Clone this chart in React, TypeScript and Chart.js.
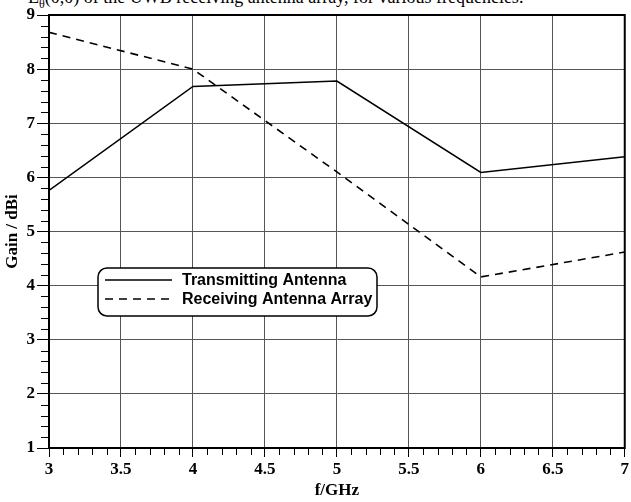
import React, { useEffect, useRef } from "react";
import { Chart, registerables } from "chart.js";

Chart.register(...registerables);

// Frequency points (GHz) and measured gains (dBi)
const frequencies = [3, 4, 5, 6, 7];
const transmittingGain = [5.76, 7.68, 7.78, 6.09, 6.38];
const receivingGain = [8.68, 8.0, 6.1, 4.16, 4.62];

const seriesNames = ["Transmitting Antenna", "Receiving Antenna Array"];
const xAxisTitle = "f/GHz";
const yAxisTitle = "Gain / dBi";

const serifFamily = "'Liberation Serif', 'Times New Roman', serif";
const tickFont = { family: serifFamily, size: 17, weight: "bold" as const };
const titleFont = { family: serifFamily, size: 17, weight: "bold" as const };

// Minor tick marks, plot frame and the boxed legend inside the plot
const decorations = {
  id: "decorations",
  afterDraw(chart: any) {
    const { ctx, chartArea, scales } = chart;
    const xs = scales.x;
    const ys = scales.y;
    ctx.save();
    ctx.strokeStyle = "#000";
    ctx.lineWidth = 1;
    // x minor ticks every 0.1
    for (let i = 30; i <= 70; i++) {
      if (i % 5 === 0) continue;
      const px = Math.round(xs.getPixelForValue(i / 10)) + 0.5;
      ctx.beginPath();
      ctx.moveTo(px, chartArea.bottom);
      ctx.lineTo(px, chartArea.bottom + 7);
      ctx.stroke();
    }
    // y minor ticks every 0.2
    for (let i = 5; i <= 45; i++) {
      if (i % 5 === 0) continue;
      const py = Math.round(ys.getPixelForValue(i / 5)) + 0.5;
      ctx.beginPath();
      ctx.moveTo(chartArea.left - 8, py);
      ctx.lineTo(chartArea.left, py);
      ctx.stroke();
    }
    // frame
    ctx.lineWidth = 2;
    ctx.strokeRect(chartArea.left, chartArea.top, chartArea.right - chartArea.left, chartArea.bottom - chartArea.top);

    // legend box
    const bx = 98, by = 268, bw = 279, bh = 48, r = 9;
    ctx.beginPath();
    ctx.roundRect(bx, by, bw, bh, r);
    ctx.fillStyle = "#fff";
    ctx.fill();
    ctx.lineWidth = 1.5;
    ctx.stroke();
    ctx.font = "bold 16px 'Liberation Sans', Arial, sans-serif";
    ctx.textBaseline = "middle";
    ctx.fillStyle = "#000";
    chart.data.datasets.forEach((ds: any, i: number) => {
      const ly = by + 12 + i * 19;
      ctx.beginPath();
      ctx.setLineDash(ds.borderDash || []);
      ctx.lineWidth = 1.5;
      ctx.moveTo(bx + 7, ly);
      ctx.lineTo(bx + 74, ly);
      ctx.stroke();
      ctx.setLineDash([]);
      ctx.fillText(ds.label, bx + 84, ly + 1);
    });
    ctx.restore();
  },
};

export default function App() {
  const canvasRef = useRef<HTMLCanvasElement | null>(null);

  useEffect(() => {
    const canvas = canvasRef.current;
    if (!canvas) return;
    const chart = new Chart(canvas, {
      type: "line",
      data: {
        datasets: [
          {
            label: seriesNames[0],
            data: frequencies.map((f, i) => ({ x: f, y: transmittingGain[i] })),
            borderColor: "#000",
            borderWidth: 1.6,
            pointRadius: 0,
            tension: 0,
          },
          {
            label: seriesNames[1],
            data: frequencies.map((f, i) => ({ x: f, y: receivingGain[i] })),
            borderColor: "#000",
            borderWidth: 1.6,
            borderDash: [8, 6],
            pointRadius: 0,
            tension: 0,
          },
        ],
      },
      options: {
        responsive: false,
        animation: false,
        layout: { padding: { top: 15, right: 4, left: 0, bottom: 0 } },
        plugins: { legend: { display: false }, tooltip: { enabled: false } },
        scales: {
          x: {
            type: "linear",
            min: 3,
            max: 7,
            ticks: {
              stepSize: 0.5,
              color: "#000",
              font: tickFont,
              padding: 2,
              maxRotation: 0,
              callback: (v: any) => String(Number(v)),
            },
            grid: { color: "#555", lineWidth: 1, tickLength: 9, tickColor: "#000" },
            border: { display: true, color: "#000", width: 2 },
            title: { display: true, text: xAxisTitle, color: "#000", font: titleFont, padding: { top: 0, bottom: 1 } },
            afterFit: (s: any) => { s.height = 54; },
          },
          y: {
            min: 1,
            max: 9,
            ticks: { stepSize: 1, color: "#000", font: tickFont, padding: 2 },
            grid: { color: "#555", lineWidth: 1, tickLength: 12, tickColor: "#000" },
            border: { display: true, color: "#000", width: 2 },
            title: { display: true, text: yAxisTitle, color: "#000", font: titleFont, padding: { top: 2, bottom: 0 } },
            afterFit: (s: any) => { s.width = 49; },
          },
        },
      },
      plugins: [decorations],
    });
    return () => chart.destroy();
  }, []);

  return (
    <div style={{ position: "fixed", left: 0, top: 0, width: 631, height: 502, overflow: "hidden", background: "#fff" }}>
      <div
        style={{
          position: "absolute",
          left: 28,
          top: -13,
          whiteSpace: "nowrap",
          font: "18px 'Liberation Serif', 'Times New Roman', serif",
          color: "#000",
        }}
      >
        E<sub style={{ fontSize: 12 }}>θ</sub>(0,0) of the UWB receiving antenna array, for various frequencies.
      </div>
      <canvas ref={canvasRef} width={631} height={502} style={{ position: "absolute", left: 0, top: 0 }} />
    </div>
  );
}
